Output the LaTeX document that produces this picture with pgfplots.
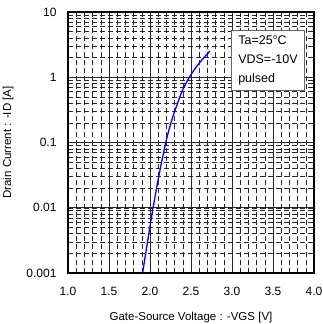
\documentclass[border=0pt]{standalone}
\usepackage{pgfplots}
\pgfplotsset{compat=1.18}
\usepackage{fontspec}
\setmainfont{Liberation Sans}
\begin{document}
\begin{tikzpicture}
\path[use as bounding box] (-68pt,-51pt) rectangle (254pt,273pt);
\begin{axis}[
  scale only axis, width=246pt, height=261pt,
  ymode=log, xmin=1, xmax=4, ymin=0.001, ymax=10,
  xtick={1,1.5,2,2.5,3,3.5,4}, minor x tick num=4,
  xticklabels={1.0,1.5,2.0,2.5,3.0,3.5,4.0},
  ytick={0.001,0.01,0.1,1,10},
  yticklabels={0.001,0.01,0.1,1,10},
  tick style={draw=none},
  grid=both,
  major grid style={black!85, line width=0.7pt},
  minor grid style={black!85, line width=0.5pt, dash pattern=on 5pt off 3pt},
  axis line style={line width=1.2pt},
  tick label style={font=\fontsize{12}{12}\selectfont},
  xticklabel style={yshift=-11pt},
  yticklabel style={xshift=-8pt},
  label style={font=\fontsize{11.5}{12}\selectfont},
  xlabel={Gate-Source Voltage : -VGS [V]},
  ylabel={Drain Current : -ID [A]},
  xlabel style={yshift=-9pt},
  ylabel style={yshift=6pt},
]
\addplot[blue, line width=1.3pt, smooth] coordinates {
(1.91,0.001) (1.96,0.00251) (2.02,0.00741) (2.08,0.01995) (2.14,0.049)
(2.20,0.1096) (2.26,0.209) (2.33,0.380) (2.40,0.646) (2.48,1.0)
(2.56,1.413) (2.65,1.95) (2.73,2.51)
};
\node[draw=black!60, fill=white, line width=0.8pt, anchor=north west,
  minimum width=73pt, minimum height=60pt, inner xsep=1.5pt, inner ysep=2pt,
  align=left, font=\fontsize{12.5}{19}\selectfont]
  at (rel axis cs:0.663,0.931) {Ta=25°C\\VDS=-10V\\pulsed};
\end{axis}
\end{tikzpicture}
\end{document}
